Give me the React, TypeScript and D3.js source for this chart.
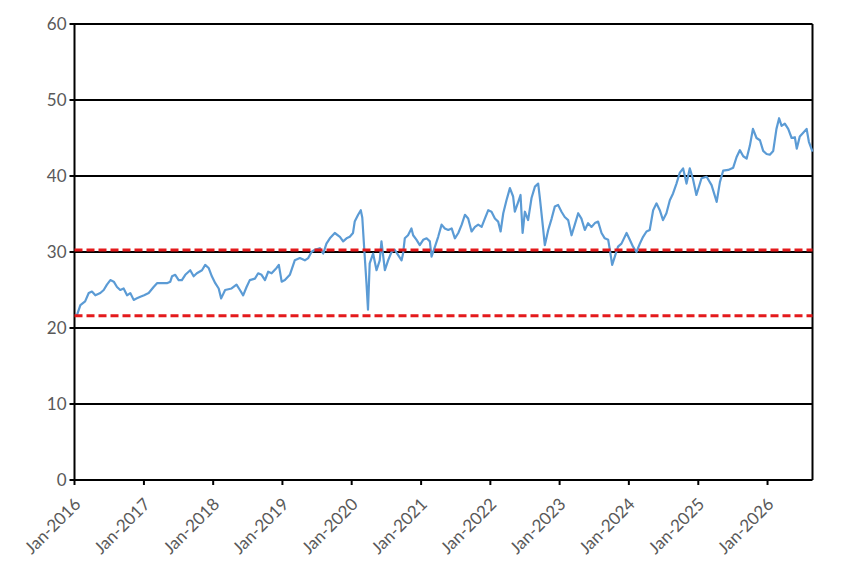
import React from 'react';
import * as d3 from 'd3';

const dates: string[] = [
  '2016-01-04', '2016-01-14', '2016-02-01', '2016-02-26', '2016-03-16', '2016-04-02', '2016-04-20', '2016-05-16',
  '2016-06-03', '2016-06-20', '2016-07-08', '2016-07-26', '2016-08-12', '2016-08-29', '2016-09-16', '2016-10-04',
  '2016-10-21', '2016-11-08', '2016-11-25', '2016-12-13',
  '2017-01-02', '2017-01-26', '2017-02-21', '2017-03-11', '2017-04-06', '2017-05-02', '2017-05-20', '2017-05-29',
  '2017-06-15', '2017-07-03', '2017-07-20', '2017-08-07', '2017-09-02', '2017-09-20', '2017-10-07', '2017-11-03',
  '2017-11-20', '2017-12-08', '2017-12-25',
  '2018-01-12', '2018-01-30', '2018-02-12', '2018-03-05', '2018-04-08', '2018-05-04', '2018-05-22', '2018-06-08',
  '2018-06-26', '2018-07-13', '2018-08-09', '2018-08-26', '2018-09-13', '2018-10-01', '2018-10-18', '2018-11-05',
  '2018-12-01', '2018-12-13', '2018-12-28',
  '2019-01-14', '2019-02-09', '2019-03-07', '2019-04-03', '2019-04-29', '2019-05-17', '2019-06-03', '2019-06-21',
  '2019-07-17', '2019-08-04', '2019-08-21', '2019-09-08', '2019-10-04', '2019-10-31', '2019-11-17', '2019-12-05',
  '2019-12-22',
  '2020-01-08', '2020-01-17', '2020-02-04', '2020-02-18', '2020-02-26', '2020-03-07', '2020-03-19', '2020-03-27',
  '2020-04-05', '2020-04-23', '2020-05-11', '2020-05-28', '2020-06-06', '2020-06-24', '2020-07-11', '2020-07-29',
  '2020-08-15', '2020-09-02', '2020-09-20', '2020-09-28', '2020-10-07', '2020-10-24', '2020-11-11', '2020-11-20',
  '2020-12-08', '2020-12-25',
  '2021-01-12', '2021-01-30', '2021-02-16', '2021-02-25', '2021-03-15', '2021-04-01', '2021-04-19', '2021-05-06',
  '2021-05-24', '2021-06-11', '2021-06-28', '2021-07-16', '2021-08-03', '2021-08-20', '2021-09-06', '2021-09-24',
  '2021-10-12', '2021-10-29', '2021-11-16', '2021-12-03', '2021-12-21',
  '2022-01-07', '2022-01-25', '2022-02-11', '2022-02-24', '2022-03-10', '2022-03-27', '2022-04-14', '2022-05-01',
  '2022-05-10', '2022-05-28', '2022-06-09', '2022-06-20', '2022-07-02', '2022-07-19', '2022-08-06', '2022-08-24',
  '2022-09-10', '2022-09-19', '2022-10-06', '2022-10-15', '2022-11-02', '2022-11-20', '2022-12-07', '2022-12-24',
  '2023-01-11', '2023-01-28', '2023-02-15', '2023-03-05', '2023-03-22', '2023-04-09', '2023-04-26', '2023-05-14',
  '2023-05-31', '2023-06-18', '2023-07-06', '2023-07-23', '2023-08-10', '2023-08-27', '2023-09-14', '2023-09-23',
  '2023-10-05', '2023-10-19', '2023-11-05', '2023-11-23', '2023-12-20',
  '2024-01-06', '2024-01-23', '2024-02-10', '2024-02-28', '2024-03-16', '2024-04-03', '2024-04-20', '2024-05-08',
  '2024-05-26', '2024-06-12', '2024-06-29', '2024-07-17', '2024-08-04', '2024-08-21', '2024-09-08', '2024-09-25',
  '2024-10-13', '2024-10-31', '2024-11-17', '2024-12-04', '2024-12-22',
  '2025-01-18', '2025-02-14', '2025-03-12', '2025-04-08', '2025-04-25', '2025-05-12', '2025-06-08', '2025-07-04',
  '2025-07-22', '2025-08-08', '2025-08-26', '2025-09-13', '2025-09-30', '2025-10-16', '2025-11-04', '2025-11-22',
  '2025-12-09', '2025-12-27',
  '2026-01-13', '2026-01-31', '2026-02-17', '2026-03-03', '2026-03-16', '2026-04-02', '2026-04-20', '2026-05-08',
  '2026-05-25', '2026-06-04', '2026-06-20', '2026-07-08', '2026-07-26', '2026-08-07', '2026-08-26',
];

const values: number[] = [
  21.6, 21.7, 23.0, 23.5, 24.6, 24.8, 24.3, 24.6,
  25.0, 25.7, 26.3, 26.1, 25.4, 25.0, 25.2, 24.3,
  24.6, 23.7, 23.9, 24.1,
  24.3, 24.6, 25.4, 25.9, 25.9, 25.9, 26.1, 26.8,
  27.0, 26.3, 26.3, 27.0, 27.6, 26.8, 27.2, 27.6,
  28.3, 27.9, 26.8,
  25.9, 25.2, 23.9, 25.0, 25.2, 25.7, 25.0, 24.3,
  25.4, 26.3, 26.5, 27.2, 27.0, 26.3, 27.4, 27.2,
  27.9, 28.3, 26.1,
  26.3, 27.0, 28.9, 29.2, 28.9, 29.2, 30.0, 30.3,
  30.5, 29.8, 31.1, 31.8, 32.5, 32.0, 31.4, 31.8,
  32.0,
  32.5, 34.0, 34.9, 35.5, 34.5, 30.5, 25.9, 22.4,
  28.5, 29.8, 27.6, 28.9, 31.4, 27.6, 28.9, 30.0,
  30.3, 29.6, 28.9, 29.8, 31.8, 32.2, 33.1, 32.2,
  31.6, 30.9,
  31.6, 31.8, 31.4, 29.4, 30.7, 32.0, 33.6, 33.1,
  32.9, 33.1, 31.8, 32.5, 33.6, 34.9, 34.4, 32.7,
  33.3, 33.6, 33.3, 34.4, 35.5,
  35.3, 34.4, 34.0, 32.7, 35.1, 36.8, 38.4, 37.3,
  35.3, 36.6, 37.5, 32.5, 35.3, 34.2, 37.1, 38.6,
  39.0, 37.1, 33.1, 30.9, 32.9, 34.4, 36.0, 36.2,
  35.3, 34.6, 34.2, 32.2, 33.6, 35.1, 34.4, 32.9,
  33.8, 33.3, 33.8, 34.0, 32.5, 31.8, 31.6, 30.3,
  28.3, 29.4, 30.7, 31.1, 32.5,
  31.6, 30.7, 30.0, 31.1, 32.0, 32.7, 32.9, 35.5,
  36.4, 35.5, 34.2, 35.1, 36.8, 37.7, 39.0, 40.4,
  41.0, 39.0, 41.0, 39.6, 37.5,
  39.7, 39.9, 38.8, 36.6, 39.2, 40.7, 40.8, 41.1,
  42.5, 43.4, 42.6, 42.3, 44.0, 46.2, 45.0, 44.7,
  43.3, 42.9,
  42.8, 43.3, 46.2, 47.6, 46.6, 46.9, 46.2, 45.0,
  45.1, 43.6, 45.2, 45.7, 46.2, 44.5, 43.2,
];

const bandLines: number[] = [30.25, 21.6];
const yTicks: number[] = [0, 10, 20, 30, 40, 50, 60];
const xTickYears: number[] = [2016, 2017, 2018, 2019, 2020, 2021, 2022, 2023, 2024, 2025, 2026];
const domainStart = '2016-01-01';
const domainEnd = '2026-08-26';

const W = 854;
const H = 576;
const margin = { top: 24, right: 41.5, bottom: 96, left: 74.5 };

const parse = d3.timeParse('%Y-%m-%d');
const fmt = d3.timeFormat('%b-%Y');

const App: React.FC = () => {
  const iw = W - margin.left - margin.right;
  const ih = H - margin.top - margin.bottom;

  const x = d3.scaleTime()
    .domain([parse(domainStart) as Date, parse(domainEnd) as Date])
    .range([0, iw]);
  const y = d3.scaleLinear().domain([0, 60]).range([ih, 0]);

  const points = dates.map((d, i) => ({ date: parse(d) as Date, value: values[i] }));
  const line = d3.line<{ date: Date; value: number }>()
    .x(d => x(d.date))
    .y(d => y(d.value));

  const labelStyle = { fontFamily: 'Lato, "Open Sans", sans-serif', fontSize: 17, fill: '#595959' };

  return (
    <svg width={W} height={H} style={{ position: 'absolute', left: 0, top: 0, background: '#fff' }}>
      <g transform={`translate(${margin.left},${margin.top})`}>
        {/* gridlines + frame */}
        {yTicks.map(t => (
          <g key={t}>
            <line x1={-5} x2={iw} y1={y(t)} y2={y(t)} stroke="#000" strokeWidth={2} />
            <text x={-8} y={y(t)} dy="0.35em" textAnchor="end" style={labelStyle}>{t}</text>
          </g>
        ))}
        <line x1={0} x2={0} y1={0} y2={ih} stroke="#000" strokeWidth={2} />
        <line x1={iw} x2={iw} y1={0} y2={ih} stroke="#000" strokeWidth={2} />

        {xTickYears.map(yr => {
          const d = new Date(yr, 0, 1);
          const px = x(d);
          return (
            <g key={yr} transform={`translate(${px},${ih})`}>
              <line y1={0} y2={5} stroke="#000" strokeWidth={2} />
              <text
                transform="translate(3,21) rotate(-45)"
                textAnchor="end"
                dy="0.35em"
                style={labelStyle}
              >
                {fmt(d)}
              </text>
            </g>
          );
        })}

        <path d={line(points) || ''} fill="none" stroke="#5B9BD5" strokeWidth={2.2} strokeLinejoin="round" />

        {bandLines.map(v => (
          <line key={v} x1={0} x2={iw} y1={y(v)} y2={y(v)} stroke="#E41A1C" strokeWidth={3} strokeDasharray="8,4" />
        ))}
      </g>
    </svg>
  );
};

export default App;
